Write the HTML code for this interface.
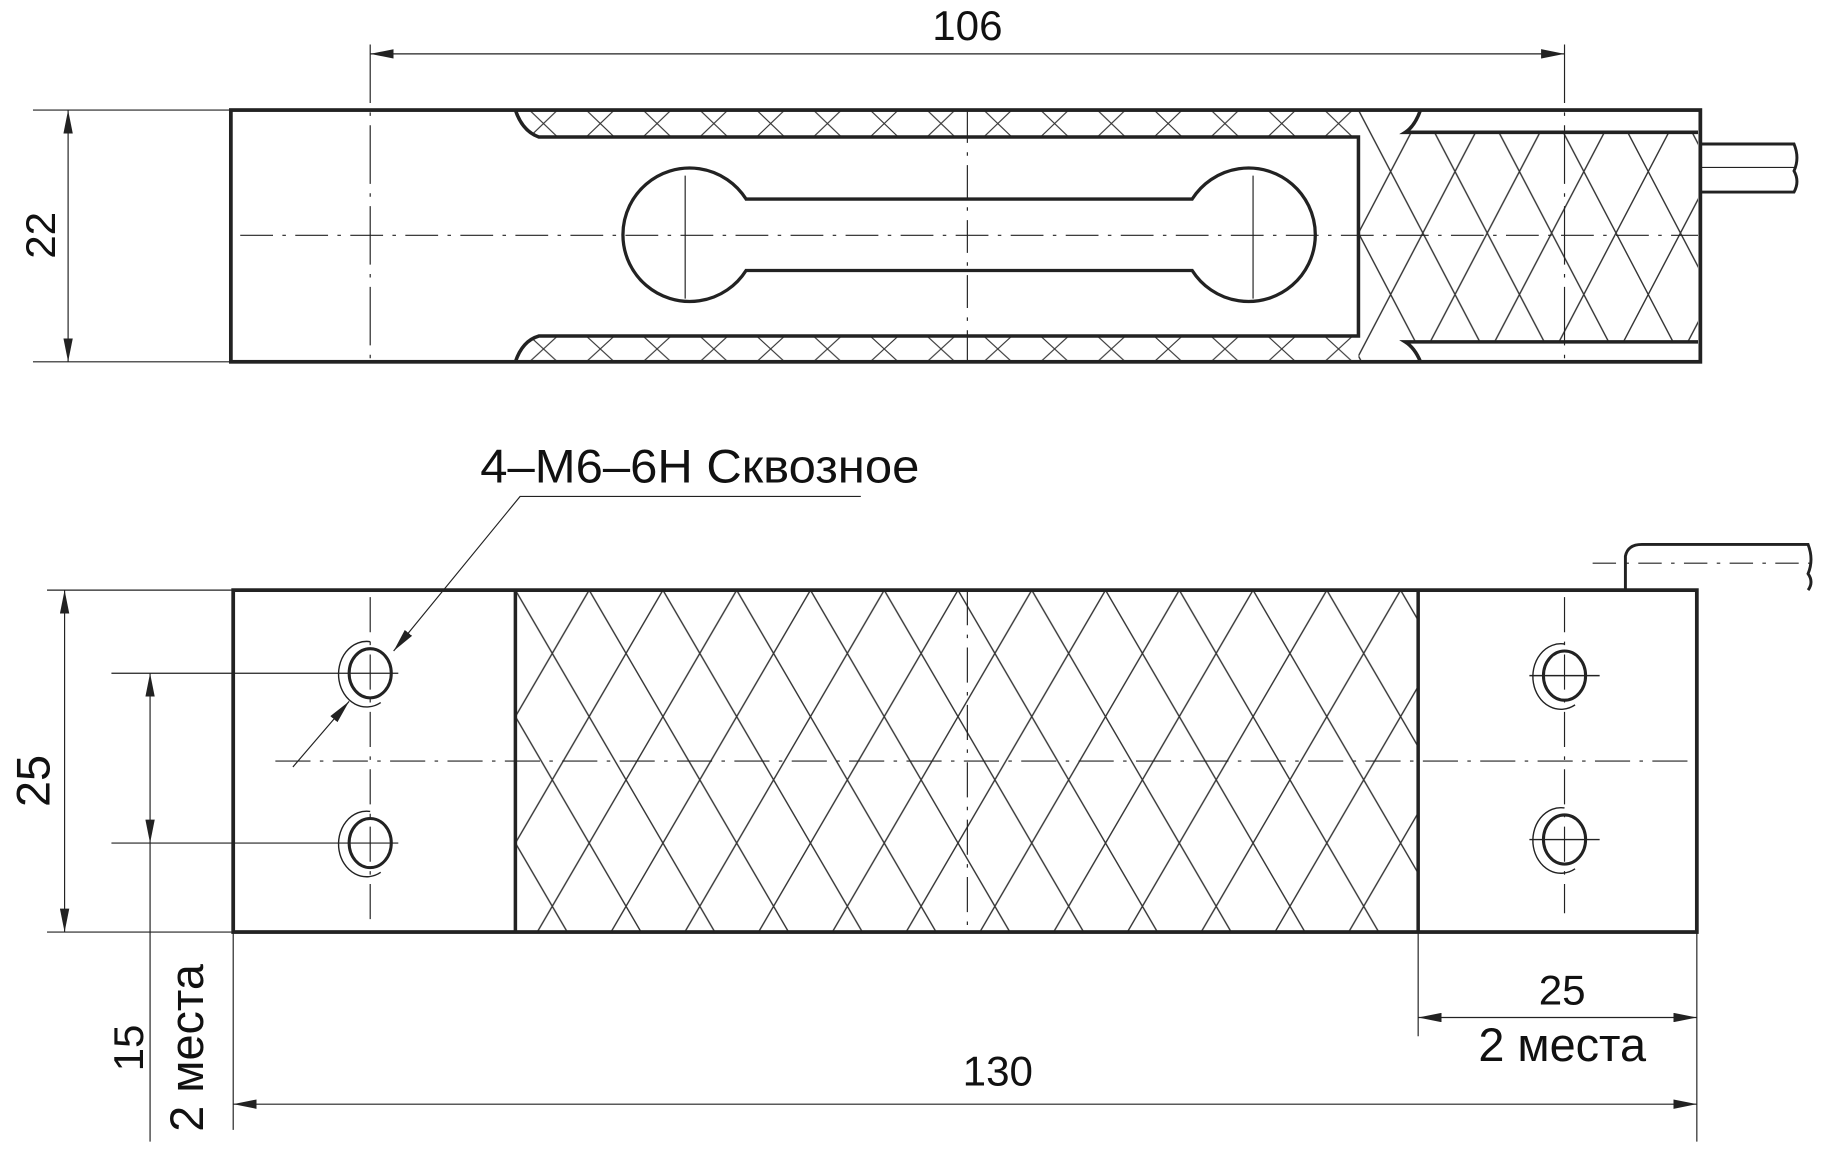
<!DOCTYPE html>
<html><head><meta charset="utf-8"><style>html,body{margin:0;padding:0;background:#fff}svg{display:block}</style></head>
<body>
<svg width="1827" height="1151" viewBox="0 0 1560 983" xmlns="http://www.w3.org/2000/svg" font-family="'Liberation Sans', sans-serif" fill="none" stroke="#222">
<defs>
<pattern id="h1" patternUnits="userSpaceOnUse" x="1160" y="94" width="55" height="105">
<path d="M0,0L55,105M55,0L0,105" stroke="#333" stroke-width="1.2"/>
</pattern>
<pattern id="h2" patternUnits="userSpaceOnUse" x="440" y="504" width="63" height="108">
<path d="M0,0L63,108M63,0L0,108" stroke="#333" stroke-width="1.2"/>
</pattern>
<pattern id="h3" patternUnits="userSpaceOnUse" x="440" y="94" width="48.5" height="23">
<path d="M12,0L36,23M36,0L12,23" stroke="#333" stroke-width="1"/>
</pattern>
<pattern id="h4" patternUnits="userSpaceOnUse" x="440" y="287" width="48.5" height="22">
<path d="M12,0L36,22M36,0L12,22" stroke="#333" stroke-width="1"/>
</pattern>
<marker id="a" viewBox="0 0 20 8" refX="20" refY="4" markerWidth="20" markerHeight="8" orient="auto" markerUnits="userSpaceOnUse"><path d="M0,0L20,4L0,8Z" fill="#222" stroke="none"/></marker>
<marker id="as" viewBox="0 0 20 8" refX="0" refY="4" markerWidth="20" markerHeight="8" orient="auto" markerUnits="userSpaceOnUse"><path d="M20,0L0,4L20,8Z" fill="#222" stroke="none"/></marker>
</defs>

<!-- TOP VIEW -->
<path d="M440,94 Q446,112 460,117 L1160,117 L1160,94Z" fill="url(#h3)" stroke="none"/>
<path d="M440,309 Q446,291 460,287 L1160,287 L1160,309Z" fill="url(#h4)" stroke="none"/>
<path d="M1160,94 L1213,94 Q1208,108 1200,113 L1450,113 L1450,292 L1200,292 Q1208,297 1213,309 L1160,309Z" fill="url(#h1)" stroke="none"/>
<rect x="197" y="94" width="1255" height="215" stroke-width="3.2"/>
<path d="M440,94 Q446,112 460,117 L1160,117 L1160,287 L460,287 Q446,291 440,309" stroke-width="3"/>
<path d="M1213,94 Q1208,108 1200,113 L1450,113 M1213,309 Q1208,297 1200,292 L1450,292" stroke-width="3"/>
<path d="M637,170 L1018,170 A57,57 0 1 1 1018,231 L637,231 A57,57 0 1 1 637,170Z" stroke-width="2.8"/>
<path d="M585,150V255M1070,150V255" stroke-width="1"/>
<path d="M1452,123 L1532,123 Q1537,135 1532,146 Q1537,155 1532,164 L1452,164" stroke-width="2.5"/>
<path d="M1452,143 L1532,143" stroke-width="1"/>
<path d="M205,201H1450" stroke-width="1" stroke-dasharray="28,8,3,8"/>
<path d="M826,94V309" stroke-width="1" stroke-dasharray="28,8,3,8"/>
<path d="M316,38V309M1336,38V309" stroke-width="1" stroke-dasharray="50,8,3,8"/>
<path d="M316,46H1336" stroke-width="1" marker-start="url(#as)" marker-end="url(#a)"/>
<text x="826" y="34" font-size="36" text-anchor="middle" fill="#111" stroke="none">106</text>
<path d="M28,94H197M28,309H197" stroke-width="1"/>
<path d="M58,94V309" stroke-width="1" marker-start="url(#as)" marker-end="url(#a)"/>
<text transform="translate(47,201) rotate(-90)" font-size="36" text-anchor="middle" fill="#111" stroke="none">22</text>

<!-- BOTTOM VIEW -->
<rect x="440" y="504" width="771" height="292" fill="url(#h2)" stroke="none"/>
<rect x="199" y="504" width="1250" height="292" stroke-width="3.2"/>
<path d="M440,504V796M1211,504V796" stroke-width="3"/>
<path d="M1388,504 L1388,475 Q1390,465 1402,465 L1544,465 Q1549,478 1544,490 Q1549,497 1544,504" stroke-width="2.5"/>
<path d="M1360,481H1548" stroke-width="1" stroke-dasharray="20,8,3,8"/>
<path d="M235,650H1449" stroke-width="1" stroke-dasharray="30,8,3,8"/>
<path d="M826,504V796" stroke-width="1" stroke-dasharray="30,8,3,8"/>
<path d="M316,510V785M1336,510V780" stroke-width="1" stroke-dasharray="30,8,3,8"/>
<g stroke-width="2.6">
<ellipse cx="316" cy="575" rx="18" ry="21"/><ellipse cx="316" cy="720" rx="18" ry="21"/>
<ellipse cx="1336" cy="577" rx="18" ry="21"/><ellipse cx="1336" cy="717" rx="18" ry="21"/>
</g>
<g stroke-width="1.2">
<path d="M316,548 A24,28 0 1 0 325,600"/><path d="M316,693 A24,28 0 1 0 325,745"/>
<path d="M1336,550 A24,28 0 1 0 1345,602"/><path d="M1336,690 A24,28 0 1 0 1345,742"/>
<path d="M1306,577H1366M1306,717H1366"/>
</g>
<path d="M95,575H340M95,720H340" stroke-width="1"/>
<path d="M128,575V720" stroke-width="1" marker-start="url(#as)" marker-end="url(#a)"/>
<path d="M128,720V975" stroke-width="1"/>
<text transform="translate(122,895) rotate(-90)" font-size="36" text-anchor="middle" fill="#111" stroke="none">15</text>
<text transform="translate(173,895) rotate(-90)" font-size="40" text-anchor="middle" fill="#111" stroke="none">2 места</text>
<path d="M40,504H199M40,796H199" stroke-width="1"/>
<path d="M55,504V796" stroke-width="1" marker-start="url(#as)" marker-end="url(#a)"/>
<text transform="translate(42,667) rotate(-90)" font-size="40" text-anchor="middle" fill="#111" stroke="none">25</text>
<path d="M199,796V965M1449,796V975M1211,796V885" stroke-width="1"/>
<path d="M199,943H1449" stroke-width="1" marker-start="url(#as)" marker-end="url(#a)"/>
<text x="852" y="927" font-size="36" text-anchor="middle" fill="#111" stroke="none">130</text>
<path d="M1211,869H1449" stroke-width="1" marker-start="url(#as)" marker-end="url(#a)"/>
<text x="1334" y="858" font-size="36" text-anchor="middle" fill="#111" stroke="none">25</text>
<text x="1334" y="906" font-size="40" text-anchor="middle" fill="#111" stroke="none">2 места</text>
<text x="410" y="412" font-size="40" textLength="375" lengthAdjust="spacingAndGlyphs" fill="#111" stroke="none">4–M6–6H Сквозное</text>
<path d="M735,424H444L336,556" stroke-width="1" marker-end="url(#a)"/>
<path d="M250,655L298,599" stroke-width="1" marker-end="url(#a)"/>
</svg>
</body></html>
